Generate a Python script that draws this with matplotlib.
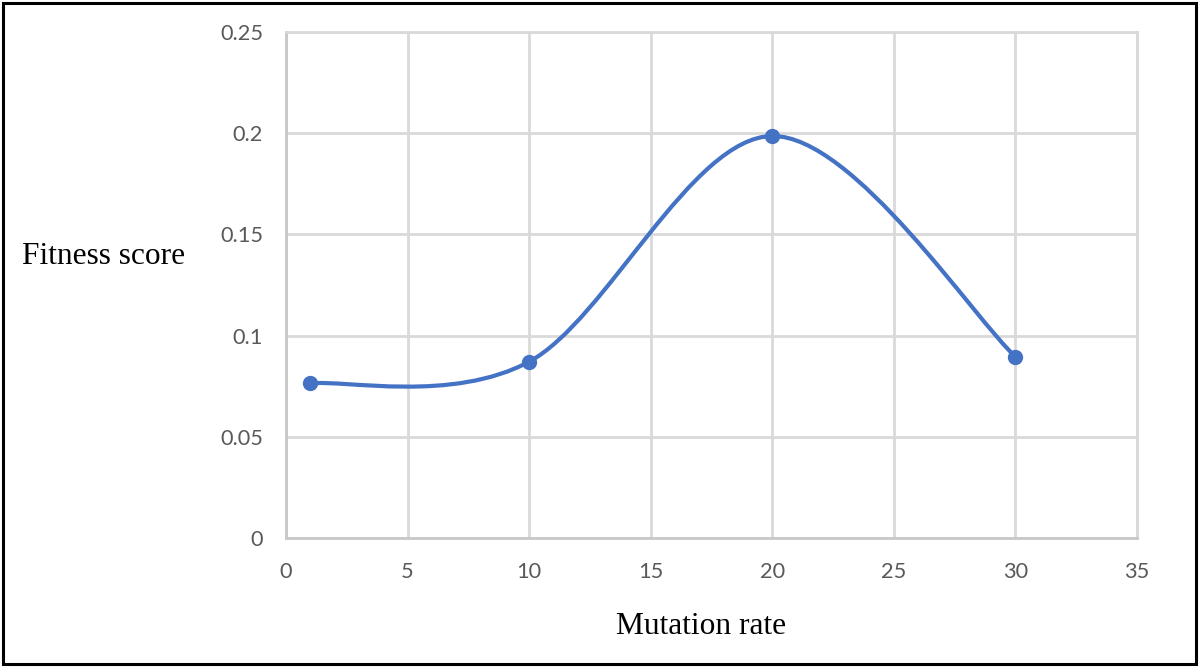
import numpy as np
import matplotlib
matplotlib.use("Agg")
import matplotlib.pyplot as plt
from matplotlib.path import Path
from matplotlib.patches import PathPatch, Rectangle

# Data
mutation_rate = [1, 10, 20, 30]
fitness_score = [0.0764, 0.0871, 0.1986, 0.0896]
x_ticks = [0, 5, 10, 15, 20, 25, 30, 35]
y_ticks = [0, 0.05, 0.1, 0.15, 0.2, 0.25]
y_tick_labels = ["0", "0.05", "0.1", "0.15", "0.2", "0.25"]

blue = "#4472C4"
grid_col = "#d9d9d9"


def smooth_path(xs, ys):
    """Excel-like smoothed line: cubic Bezier segments with Catmull-Rom control points"""
    pts = np.column_stack([xs, ys]).astype(float)
    n = len(pts)
    verts = [pts[0]]
    codes = [Path.MOVETO]
    for i in range(n - 1):
        p0 = pts[max(i - 1, 0)]
        p1 = pts[i]
        p2 = pts[i + 1]
        p3 = pts[min(i + 2, n - 1)]
        c1 = p1 + (p2 - p0) / 6.0
        c2 = p2 - (p3 - p1) / 6.0
        verts += [c1, c2, p2]
        codes += [Path.CURVE4] * 3
    return Path(verts, codes)


fig = plt.figure(figsize=(12, 6.67), dpi=100)
ax = fig.add_axes([286 / 1200, 1 - 538 / 667, (1137 - 286) / 1200, (538 - 32) / 667])

# Black frame round the whole picture
fig.patches.append(Rectangle((3 / 1200, 3 / 667), 1193 / 1200, 661 / 667, transform=fig.transFigure,
                             fill=False, edgecolor="black", linewidth=2.2))

ax.add_patch(PathPatch(smooth_path(mutation_rate, fitness_score), facecolor="none", edgecolor=blue,
                       linewidth=3, capstyle="round", zorder=3))
ax.plot(mutation_rate, fitness_score, linestyle="none", marker="o", markersize=10, color=blue, zorder=4,
        clip_on=False)

ax.set_xlim(0, 35)
ax.set_ylim(0, 0.25)
ax.set_xticks(x_ticks)
ax.set_yticks(y_ticks)
ax.set_yticklabels(y_tick_labels)
ax.grid(True, color=grid_col, linewidth=2)
ax.set_axisbelow(True)
for side in ["left", "bottom", "top", "right"]:
    ax.spines[side].set_color(grid_col)
    ax.spines[side].set_linewidth(2)
ax.spines["left"].set_color("#c8c8c8")
ax.spines["bottom"].set_color("#c8c8c8")
ax.tick_params(axis="both", length=0, labelsize=15.7, labelcolor="#595959")
ax.tick_params(axis="y", pad=16.5)
ax.tick_params(axis="x", pad=17.5)
for lab in ax.get_xticklabels() + ax.get_yticklabels():
    lab.set_family("Lato")

fig.text(22 / 1200, 1 - 257 / 667, "Fitness score", family="Liberation Serif", fontsize=22.6, color="black",
         ha="left", va="center")
fig.text(701 / 1200, 1 - 626 / 667, "Mutation rate", family="Liberation Serif", fontsize=22.6, color="black",
         ha="center", va="center")

fig.savefig("out.png", dpi=100)
